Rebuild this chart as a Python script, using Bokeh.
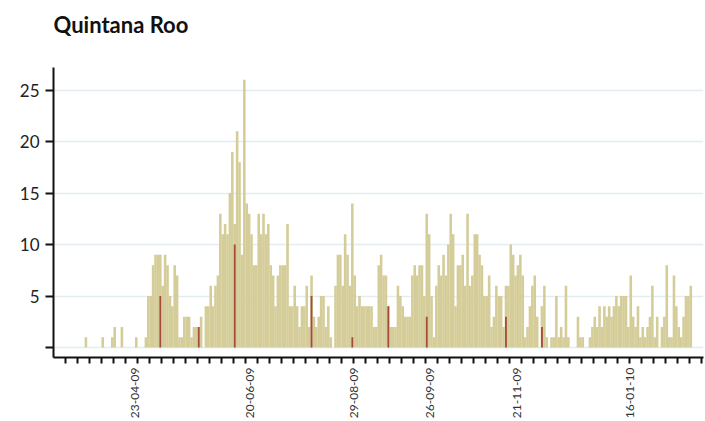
import math
from bokeh.plotting import figure
from bokeh.models import Range1d, FixedTicker, ColumnDataSource, Title
from bokeh.embed import file_html
from bokeh.resources import INLINE

# daily confirmed cases (one bar per reporting day)
cases = [
    0, 0, 0, 0, 0, 0, 0, 0, 0, 0,
    0, 0, 0, 1, 0, 0, 0, 0, 0, 0,
    1, 0, 0, 0, 1, 2, 0, 0, 2, 0,
    0, 0, 0, 0, 1, 0, 0, 0, 1, 5,
    5, 8, 9, 9, 9, 6, 9, 8, 5, 4,
    8, 7, 1, 1, 3, 3, 3, 1, 2, 2,
    2, 3, 0, 4, 4, 6, 4, 6, 7, 13,
    11, 12, 11, 15, 19, 12, 21, 18, 9, 26,
    14, 13, 11, 8, 8, 13, 11, 13, 11, 12,
    8, 7, 4, 7, 8, 8, 8, 12, 4, 4,
    6, 4, 2, 4, 4, 6, 2, 7, 3, 2,
    3, 5, 5, 2, 4, 1, 0, 6, 9, 9,
    6, 11, 9, 6, 14, 7, 4, 5, 4, 4,
    4, 4, 4, 2, 2, 8, 9, 7, 7, 4,
    2, 2, 2, 6, 5, 4, 3, 3, 3, 7,
    8, 7, 8, 8, 5, 13, 11, 5, 1, 6,
    8, 7, 9, 7, 10, 13, 11, 4, 8, 8,
    9, 6, 13, 6, 7, 11, 11, 9, 8, 5,
    5, 7, 2, 3, 6, 5, 5, 2, 6, 6,
    10, 9, 7, 8, 9, 7, 1, 2, 4, 6,
    7, 3, 0, 4, 6, 1, 0, 1, 1, 5,
    1, 2, 1, 6, 1, 0, 0, 0, 3, 1,
    1, 0, 0, 1, 2, 3, 2, 4, 2, 4,
    3, 4, 3, 4, 5, 4, 5, 5, 5, 2,
    7, 3, 2, 4, 1, 2, 1, 2, 3, 6,
    1, 3, 0, 2, 3, 8, 1, 1, 7, 4,
    2, 1, 3, 5, 5, 6,
]

# deaths by day index
death_days = [44, 60, 75, 107, 124, 139, 155, 188, 203]
death_vals = [5, 2, 10, 5, 1, 4, 3, 3, 2]

# date labels and the day index they sit on
date_labels = ["23-04-09", "20-06-09", "29-08-09", "26-09-09", "21-11-09", "16-01-10"]
date_days = [34, 82, 125, 157, 193, 240]

y_ticks = [0, 5, 10, 15, 20, 25]

title_text = "Quintana Roo"

n_days = 270.8

src_cases = ColumnDataSource(dict(x=[i + 0.5 for i in range(len(cases))], top=cases))
src_deaths = ColumnDataSource(dict(x=[d + 0.5 for d in death_days], top=death_vals))

p = figure(width=705, height=421, output_backend="svg", toolbar_location=None,
           x_range=Range1d(0, n_days), y_range=Range1d(-0.97, 27.2),
           min_border_left=53, min_border_right=2, min_border_top=67,
           min_border_bottom=64, title=None)

p.outline_line_color = None
p.background_fill_color = "white"
p.border_fill_color = "white"

p.vbar(x="x", top="top", width=1.08, source=src_cases, fill_color="#D5CD99",
       line_color=None)
p.vbar(x="x", top="top", width=0.75, source=src_deaths, fill_color="#A34A3A",
       line_color=None)

# spacer panel between the frame and the title, then the title itself
spacer = Title(text=" ", text_font="Lato", text_font_size="18px", standoff=6)
p.add_layout(spacer, "above")
main_title = Title(text=title_text, text_font="Lato", text_font_size="22px",
                   text_font_style="bold", text_color="#111111", align="left",
                   vertical_align="bottom", standoff=0)
p.add_layout(main_title, "above")

# grid
p.xgrid.visible = False
p.ygrid.ticker = FixedTicker(ticks=y_ticks)
p.ygrid.grid_line_color = "#E3EDF1"
p.ygrid.grid_line_width = 1.5

# y axis
ya = p.yaxis[0]
ya.ticker = FixedTicker(ticks=y_ticks)
ya.major_label_overrides = {0: ""}
ya.axis_line_color = "#111111"
ya.axis_line_width = 2
ya.major_tick_line_color = "#111111"
ya.major_tick_line_width = 2
ya.major_tick_out = 8
ya.major_tick_in = 0
ya.minor_tick_line_color = None
ya.major_label_text_font = "Lato"
ya.major_label_text_font_size = "17px"
ya.major_label_text_color = "#222222"
ya.major_label_standoff = 6

# x axis
xa = p.xaxis[0]
xa.ticker = FixedTicker(ticks=date_days, minor_ticks=list(range(5, 271, 5)))
xa.major_label_overrides = {d: lab for d, lab in zip(date_days, date_labels)}
xa.major_label_orientation = math.pi / 2
xa.axis_line_color = "#111111"
xa.axis_line_width = 2
xa.major_tick_line_color = None
xa.major_tick_out = 6
xa.major_tick_in = 0
xa.minor_tick_line_color = "#111111"
xa.minor_tick_line_width = 2
xa.minor_tick_out = 6
xa.minor_tick_in = 0
xa.major_label_text_font = "Lato"
xa.major_label_text_font_size = "12px"
xa.major_label_text_color = "#333333"
xa.major_label_standoff = 4

open("out.html", "w").write(file_html(p, INLINE))
